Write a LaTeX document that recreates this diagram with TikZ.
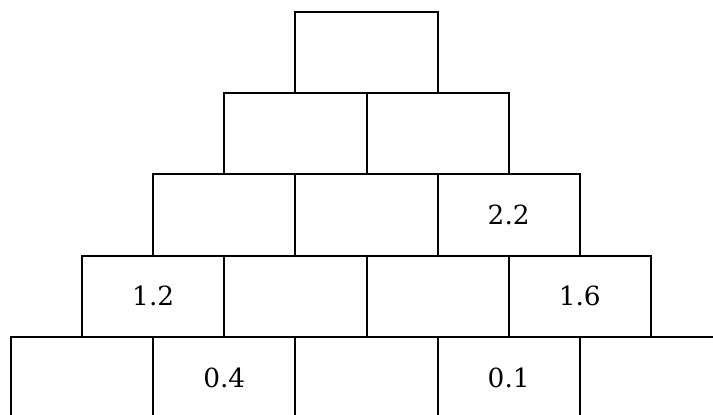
\documentclass[tikz,border=0pt]{standalone}
\usepackage{fontspec}
\setmainfont{DejaVu Serif}
\usetikzlibrary{positioning}
\tikzset{
  brick/.style={draw=black, line width=1.7pt, minimum width=4.266cm,
    minimum height=2.439cm, inner sep=0pt, font=\fontsize{22.5}{26}\selectfont},
}
\begin{document}
\begin{tikzpicture}[x=0.03cm,y=-0.03cm]
  \useasboundingbox (0,0) rectangle (713,414);
  \clip (0,0) rectangle (713,414);
  \def\bw{142.2}
  \def\bh{81.3}
  % bricks, bottom row first (row/brick/value)
  \foreach \r/\k/\v in {0/0/{}, 0/1/0.4, 0/2/{}, 0/3/0.1, 0/4/{},
                        1/0/1.2, 1/1/{}, 1/2/{}, 1/3/1.6,
                        2/0/{}, 2/1/{}, 2/2/2.2,
                        3/0/{}, 3/1/{},
                        4/0/{}} {
    \node[brick] (b-\r-\k) at ({11+\bw*(\k+0.5)+\bw/2*\r},{337+\bh/2-\bh*\r}) {\v};
  }
\end{tikzpicture}
\end{document}
